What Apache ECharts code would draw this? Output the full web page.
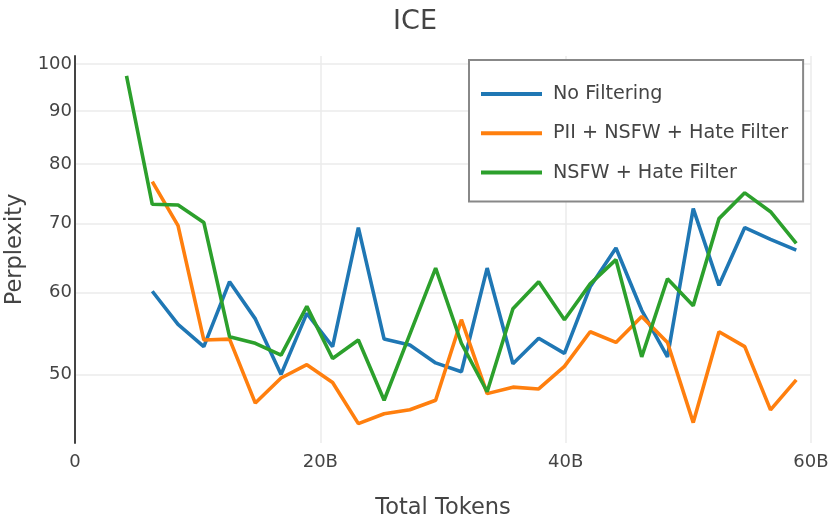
<!DOCTYPE html>
<html>
<head>
<meta charset="utf-8">
<script src="https://cdn.jsdelivr.net/npm/echarts@6/dist/echarts.min.js"></script>
<style>
  html, body { margin: 0; padding: 0; background: #fff; }
  #chart { width: 830px; height: 520px; }
</style>
</head>
<body>
<div id="chart"></div>
<script>
// Total tokens (billions) at each checkpoint
const tokensB = [4.2, 6.3, 8.4, 10.5, 12.6, 14.7, 16.8, 18.9, 21.0, 23.1, 25.2, 27.3, 29.4, 31.5, 33.6, 35.7, 37.8, 39.9, 42.0, 44.1, 46.2, 48.3, 50.4, 52.5, 54.6, 56.7, 58.8];

const seriesNames = ['No Filtering', 'PII + NSFW + Hate Filter', 'NSFW + Hate Filter'];

// starts at 6.3B
const noFiltering = [60.2, 55.9, 53.2, 61.5, 56.6, 50.0, 57.3, 53.2, 69.4, 54.1, 53.4, 51.3, 50.3, 63.4, 51.2, 54.2, 52.4, 60.8, 66.3, 57.7, 52.0, 72.4, 61.0, 69.4, 67.6, 66.0];
// starts at 6.3B
const piiNsfwHate = [76.9, 69.7, 54.0, 54.1, 46.9, 49.6, 51.1, 49.1, 44.8, 45.8, 46.2, 47.2, 56.5, 47.9, 48.6, 48.4, 50.9, 55.0, 53.7, 56.9, 53.7, 44.9, 55.0, 53.2, 46.2, 49.4];
// starts at 4.2B
const nsfwHate = [97.4, 73.1, 73.0, 70.2, 54.4, 53.6, 52.2, 58.2, 51.8, 54.0, 47.2, 54.7, 63.4, 53.6, 48.1, 57.9, 61.5, 56.5, 61.2, 64.6, 52.0, 61.9, 58.3, 70.8, 75.0, 71.9, 67.0];

const yTicks = [50, 60, 70, 80, 90, 100];
const xTicks = [0, 20, 40, 60];

const colors = ['#1f77b4', '#ff7f0e', '#2ca02c'];
const FONT = 'DejaVu Sans';
const TXT = '#444';

function pairs(vals) {
  const off = tokensB.length - vals.length;
  return vals.map((v, i) => [tokensB[i + off], v]);
}

const chart = echarts.init(document.getElementById('chart'), null, { renderer: 'canvas' });

chart.setOption({
  backgroundColor: '#fff',
  animation: false,
  color: colors,
  textStyle: { fontFamily: FONT, color: TXT },
  title: {
    text: 'ICE',
    left: 'center',
    top: 3,
    textStyle: { fontFamily: FONT, fontSize: 27, fontWeight: 'normal', color: TXT }
  },
  grid: { left: 75, right: 19, top: 56, bottom: 77, containLabel: false, outerBoundsMode: 'none' },
  legend: {
    orient: 'vertical',
    left: 469,
    top: 60,
    data: seriesNames,
    icon: 'rect',
    itemWidth: 61,
    itemHeight: 4,
    itemGap: 17.3,
    padding: [23, 15, 18, 12],
    backgroundColor: '#fff',
    borderColor: '#888',
    borderWidth: 2,
    borderRadius: 0,
    textStyle: { fontFamily: FONT, fontSize: 19.2, color: TXT, lineHeight: 22, padding: [0, 0, 0, 6] }
  },
  xAxis: {
    type: 'value',
    min: 0,
    max: 60,
    interval: 20,
    name: 'Total Tokens',
    nameLocation: 'middle',
    nameGap: 54,
    nameTextStyle: { fontFamily: FONT, fontSize: 22.5, color: TXT },
    axisLine: { show: false },
    axisTick: { show: false },
    axisLabel: {
      fontFamily: FONT, fontSize: 18, color: TXT, margin: 10,
      formatter: v => (v === 0 ? '0' : v + 'B')
    },
    splitLine: { show: true, lineStyle: { color: '#ebebeb', width: 1.5 } }
  },
  yAxis: {
    type: 'log',
    logBase: 10,
    min: 42.9,
    max: 101.8,
    name: 'Perplexity',
    nameLocation: 'middle',
    nameGap: 46,
    nameTextStyle: { fontFamily: FONT, fontSize: 22.5, color: TXT },
    axisLine: { show: true, lineStyle: { color: '#444', width: 2 } },
    axisTick: { show: false, customValues: yTicks },
    axisLabel: { fontFamily: FONT, fontSize: 18, color: TXT, margin: 3, customValues: yTicks },
    splitLine: { show: true, lineStyle: { color: '#ebebeb', width: 1.5 } }
  },
  series: [
    { name: seriesNames[0], type: 'line', data: pairs(noFiltering), symbol: 'none', lineStyle: { width: 3.6, color: colors[0] }, z: 2 },
    { name: seriesNames[1], type: 'line', data: pairs(piiNsfwHate), symbol: 'none', lineStyle: { width: 3.6, color: colors[1] }, z: 3 },
    { name: seriesNames[2], type: 'line', data: pairs(nsfwHate), symbol: 'none', lineStyle: { width: 3.6, color: colors[2] }, z: 4 }
  ]
});
</script>
</body>
</html>
